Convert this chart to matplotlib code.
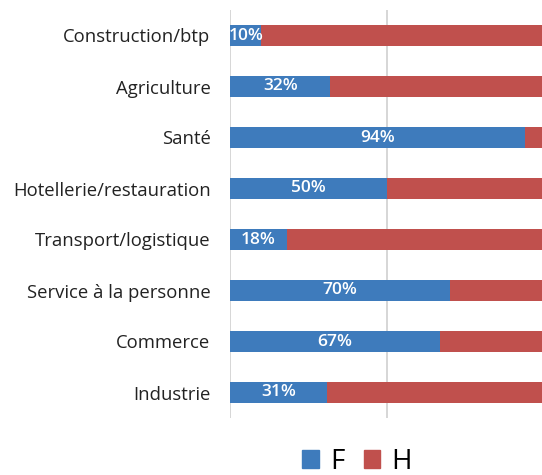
import matplotlib.pyplot as plt
from matplotlib.patches import Patch

# secteurs (du haut vers le bas) et part des femmes en %
secteurs = ["Construction/btp", "Agriculture", "Santé", "Hotellerie/restauration",
            "Transport/logistique", "Service à la personne", "Commerce", "Industrie"]
femmes = [10, 32, 94, 50, 18, 70, 67, 31]
hommes = [100 - f for f in femmes]

bleu = "#3E7BBC"
rouge = "#C0504D"

plt.rcParams['font.family'] = ['Open Sans', 'DejaVu Sans']

fig = plt.figure(figsize=(5.42, 4.75), dpi=100)
ax = fig.add_axes([230 / 542, 1 - 418 / 475, 314 / 542, 408 / 475])

y = list(range(len(secteurs)))
ax.barh(y, femmes, height=0.4, color=bleu, zorder=3)
ax.barh(y, hommes, left=femmes, height=0.4, color=rouge, zorder=3)

for i, f in enumerate(femmes):
    ax.text(f / 2, i, f"{f}%", ha="center", va="center", color="white",
            fontsize=12.5, fontweight="semibold", zorder=4)

ax.set_xlim(0, 100)
ax.set_ylim(len(secteurs) - 0.5, -0.5)
ax.set_yticks(y)
ax.set_yticklabels(secteurs, fontsize=13.3, color="#222222")
ax.set_xticks([0, 50, 100])
ax.tick_params(axis="x", length=0, labelbottom=False)
ax.tick_params(axis="y", length=0, pad=14)
ax.set_axisbelow(True)
ax.grid(axis="x", color="#D0D0D0", linewidth=1.2)
for s in ax.spines.values():
    s.set_visible(False)

handles = [Patch(color=bleu, label="F"), Patch(color=rouge, label="H")]
fig.legend(handles=handles, loc="center", bbox_to_anchor=(357 / 542, 1 - 462 / 475),
           ncol=2, frameon=False, fontsize=20, handlelength=0.6, handleheight=0.6,
           handletextpad=0.4, columnspacing=0.7, borderpad=0)

fig.savefig("out.png", dpi=100)
